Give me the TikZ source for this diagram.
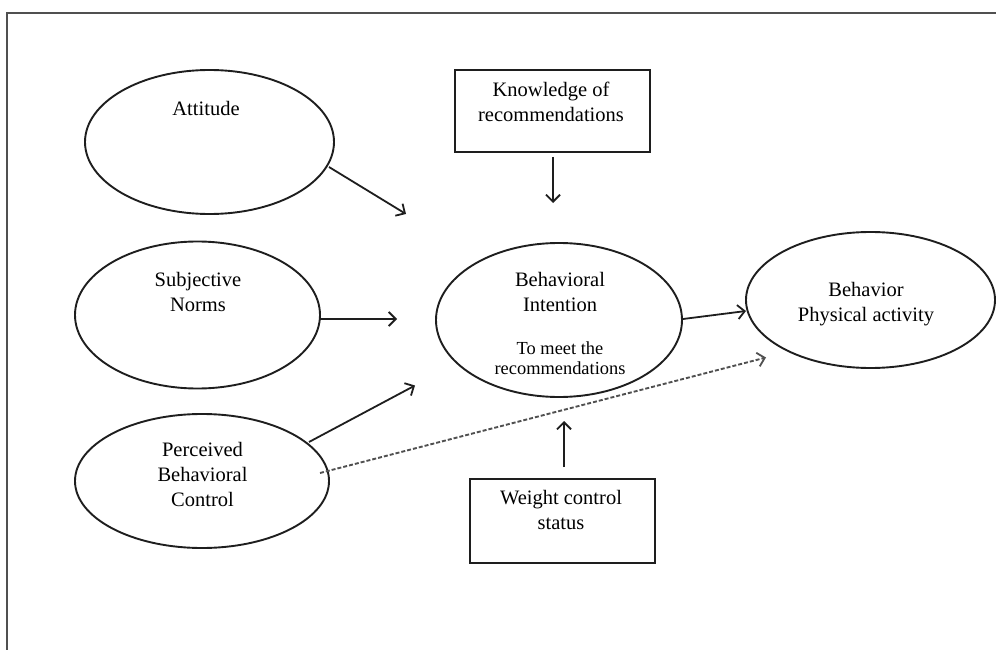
\documentclass[tikz,border=0pt]{standalone}
\usepackage{fontspec}
\setmainfont{Liberation Serif}
\usetikzlibrary{arrows.meta,shapes.geometric}
\definecolor{ink}{HTML}{1E1E1E}
\definecolor{framec}{HTML}{505050}
\begin{document}
\begin{tikzpicture}[x=1pt,y=-1pt,
  oval/.style={draw=ink,line width=1.9pt,ellipse,inner sep=0pt},
  boxn/.style={draw=ink,line width=2pt,rectangle,inner sep=0pt},
  lbl/.style={align=center,inner sep=0pt,font=\fontsize{20.5pt}{25pt}\selectfont},
  small/.style={align=center,inner sep=0pt,font=\fontsize{18.4pt}{20pt}\selectfont},
  arr/.style={draw=ink,line width=1.8pt,-{Straight Barb[length=7pt,width=14pt,line width=1.8pt]}},
  darr/.style={draw=framec,line width=1.9pt,dash pattern=on 4pt off 2pt,-{Straight Barb[length=7pt,width=14pt,line width=1.8pt,sep=0pt]}}]
\useasboundingbox (0,0) rectangle (996,650);
% frame
\draw[framec,line width=2.2pt] (7,650) -- (7,13) -- (996,13);
% nodes
\node[oval,minimum width=249pt,minimum height=144pt] (att) at (209.5,142) {};
\node[lbl] (attt) at (206,108) {Attitude};
\node[oval,minimum width=245pt,minimum height=147pt] (sn) at (197.5,315) {};
\node[lbl] (snt) at (198,292) {Subjective\\Norms};
\node[oval,minimum width=254pt,minimum height=134pt] (pbc) at (202,481) {};
\node[lbl] (pbct) at (202.5,474) {Perceived\\Behavioral\\Control};
\node[boxn,minimum width=195pt,minimum height=82pt] (know) at (552.5,111) {};
\node[lbl] (knowt) at (551,101.5) {Knowledge of\\recommendations};
\node[oval,minimum width=246pt,minimum height=154pt] (bi) at (559,320) {};
\node[lbl] (bit) at (560,291.5) {Behavioral\\Intention};
\node[small] (bis) at (560,358) {To meet the\\recommendations};
\node[oval,minimum width=249pt,minimum height=136pt] (beh) at (870.5,300) {};
\node[lbl] (beht) at (866,304) {Behavior\\Physical activity};
\node[boxn,minimum width=185pt,minimum height=84pt] (wc) at (562.5,521) {};
\node[lbl] (wct) at (561,509.5) {Weight control\\status};
% connector ends
\coordinate (s1) at (329,167);
\coordinate (e1) at (406,214);
\coordinate (s2) at (320,319);
\coordinate (e2) at (397,319);
\coordinate (s3) at (309,442);
\coordinate (e3) at (415,385.5);
\coordinate (s4) at (553,157);
\coordinate (e4) at (553,203);
\coordinate (s5) at (564,467);
\coordinate (e5) at (564,421);
\coordinate (s6) at (320,473);
\coordinate (e6) at (766,357.5);
\coordinate (s7) at (683,319);
\coordinate (e7) at (746,311);
% connectors
\draw[arr] (s1) -- (e1);
\draw[arr] (s2) -- (e2);
\draw[arr] (s3) -- (e3);
\draw[arr] (s4) -- (e4);
\draw[arr] (s5) -- (e5);
\draw[arr] (s7) -- (e7);
\draw[darr] (s6) -- (e6);
\end{tikzpicture}
\end{document}
